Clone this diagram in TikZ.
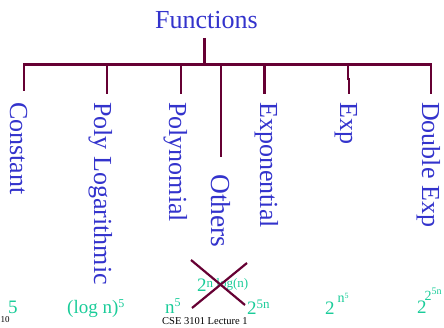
\documentclass[tikz,border=0pt]{standalone}
\usepackage{fontspec}
\setmainfont{Liberation Serif}
\definecolor{fblue}{RGB}{51,51,204}
\definecolor{fgreen}{RGB}{26,204,153}
\definecolor{fline}{RGB}{102,0,51}
\newcommand\supx[3]{\raisebox{#1}{\fontsize{#2}{#2}\selectfont #3}}
\begin{document}
\begin{tikzpicture}[x=1pt,y=-1pt,
  lbl/.style={inner sep=0pt, text=fblue, font=\fontsize{26}{30}\selectfont},
  vlbl/.style={lbl, rotate=-90, anchor=base west},
  ex/.style={inner sep=0pt, text=fgreen, font=\fontsize{19}{22}\selectfont, anchor=base west},
  note/.style={inner sep=0pt, text=black, anchor=base west},
  tree/.style={draw=fline, line width=2.1pt, line join=miter},
  cross/.style={draw=fline, line width=2.2pt}]
\useasboundingbox (0,0) rectangle (444,328);

% title and categories
\node[lbl, anchor=base] (fn) at (206.5,29) {Functions};
\node[vlbl] (c1) at (10,102) {Constant};
\node[vlbl] (c2) at (94,102) {Poly Logarithmic};
\node[vlbl] (c3) at (169,102) {Polynomial};
\node[vlbl, font=\fontsize{27.5}{30}\selectfont] (c4) at (211,174) {Others};
\node[vlbl] (c5) at (260,102) {Exponential};
\node[vlbl] (c6) at (340,102) {Exp};
\node[vlbl] (c7) at (422,102) {Double Exp};

% tree coordinates
\coordinate (top) at (204.5,38);
\coordinate (hub) at (204.5,64.5);
\coordinate (b1) at (24,64.5);   \coordinate (e1) at (24,91);
\coordinate (b2) at (107,64.5);  \coordinate (e2) at (107,94);
\coordinate (b3) at (181,64.5);  \coordinate (e3) at (181,94);
\coordinate (b4) at (221,64.5);  \coordinate (e4) at (221,157);
\coordinate (b5) at (264.5,64.5);\coordinate (e5) at (264.5,94);
\coordinate (b6) at (348,64.5);  \coordinate (k6) at (348,79); \coordinate (k6b) at (349,79); \coordinate (e6) at (349,94);
\coordinate (b7) at (431,64.5);  \coordinate (e7) at (431,94);

\draw[tree] (top) -- (hub);
\draw[tree] (e1) -- (b1) -- (b7) -- (e7);
\draw[tree] (b2) -- (e2);
\draw[tree] (b3) -- (e3);
\draw[tree] (b4) -- (e4);
\draw[tree] (b5) -- (e5);
\draw[tree] (b6) -- (k6) -- (k6b) -- (e6);

% examples
\node[ex] (f1) at (8,313) {5};
\node[ex] (f2) at (67,314) {(log n)\supx{6pt}{12}{5}};
\node[ex] (f3) at (165,313) {n\supx{7pt}{12}{5}};
\node[ex] (f4) at (197,292) {2\supx{4pt}{13}{n log(n)}};
\node[ex] (f5) at (247,315) {2\supx{6pt}{13}{5n}};
\node[ex] (f6) at (325,315) {2\kern3pt\supx{13pt}{14}{n\supx{4pt}{8}{5}}};
\node[ex] (f7) at (417,313) {2\kern-2pt\supx{13pt}{14}{2\supx{5pt}{10}{5n}}};

% crossed out
\coordinate (xa1) at (191,260); \coordinate (xa2) at (245,305);
\coordinate (xb1) at (192,308); \coordinate (xb2) at (247,263);
\draw[cross] (xa1) -- (xa2);
\draw[cross] (xb1) -- (xb2);

% footer
\node[note, font=\fontsize{9}{9}\selectfont] (pg) at (0.5,323) {10};
\node[note, font=\fontsize{10.5}{12}\selectfont] (ft) at (162,324) {CSE 3101 Lecture 1};
\end{tikzpicture}
\end{document}
